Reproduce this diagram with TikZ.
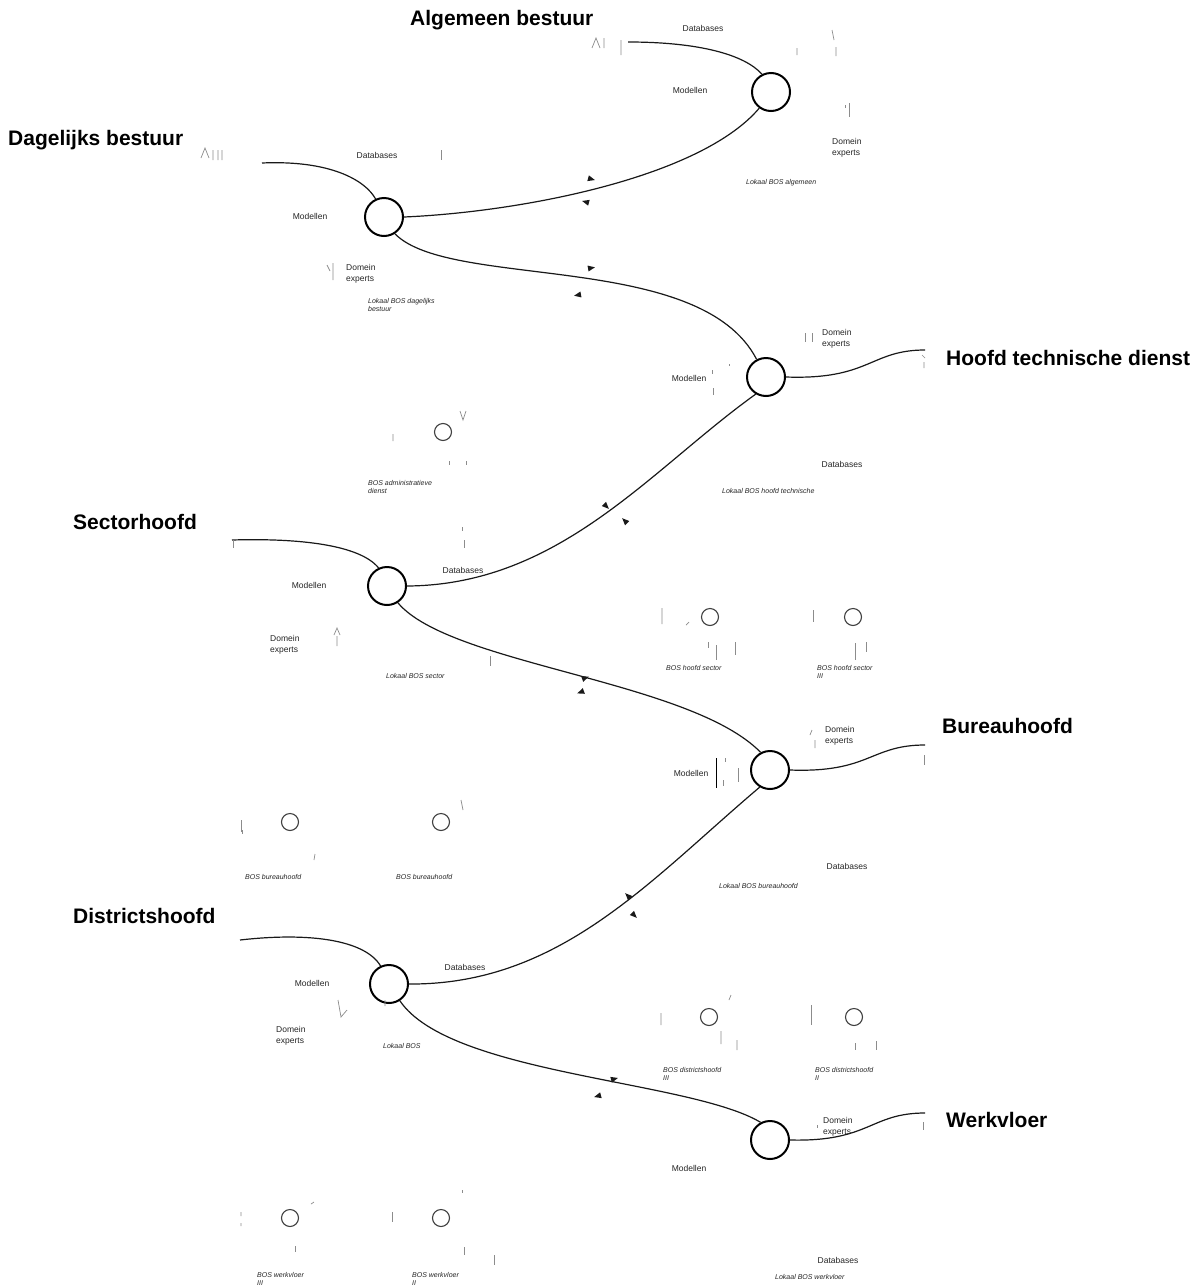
\documentclass[tikz,border=0pt]{standalone}
\usepackage{fontspec}
\setmainfont{Liberation Sans}
\begin{document}
\begin{tikzpicture}[x=1pt,y=-1pt,
  title/.style={font=\fontsize{21}{23}\selectfont\bfseries, anchor=west, inner sep=0},
  lbl/.style={font=\fontsize{8.5}{10}\selectfont, inner sep=0, text=black!85},
  duo/.style={font=\fontsize{8.5}{11}\selectfont, inner sep=0, text=black!85, align=left, anchor=west},
  loc/.style={font=\fontsize{7}{8.5}\selectfont\itshape, inner sep=0, align=left, anchor=west, text=black!85},
  hub/.style={circle, draw, line width=2pt, minimum size=38pt, inner sep=0},
  bos/.style={circle, draw=black!75, line width=1.1pt, minimum size=17pt, inner sep=0},
  link/.style={line width=1.2pt, black!90},
  frag/.style={black!45, line width=0.7pt},
  tri/.pic={\fill[black!90] (4,0) -- (-3,3) -- (-3,-3) -- cycle;}
]
\useasboundingbox (0,0) rectangle (1198,1288);
\fill[white] (0,0) rectangle (1198,1288);

% level titles
\node[title] (tA)  at (410,20)   {Algemeen bestuur};
\node[title] (tD)  at (8,140)    {Dagelijks bestuur};
\node[title] (tH)  at (946,358)  {Hoofd technische dienst};
\node[title] (tS)  at (73,522)   {Sectorhoofd};
\node[title] (tB)  at (942,726)  {Bureauhoofd};
\node[title] (tDi) at (73,916)   {Districtshoofd};
\node[title] (tW)  at (946,1120) {Werkvloer};

% local decision support hubs
\node[hub] (A)  at (771,92)   {};
\node[hub] (D)  at (384,217)  {};
\node[hub] (H)  at (766,377)  {};
\node[hub] (S)  at (387,586)  {};
\node[hub] (B)  at (770,770)  {};
\node[hub] (Di) at (389,984)  {};
\node[hub] (W)  at (770,1140) {};

% free ends of the outer links
\coordinate (aA)  at (628,42);
\coordinate (aD)  at (262,163);
\coordinate (aH)  at (925,350);
\coordinate (aS)  at (232,540);
\coordinate (aB)  at (925,745);
\coordinate (aDi) at (240,940);
\coordinate (aW)  at (925,1113);

% outer links
\draw[link] (aA) .. controls (700,42) and (745,55) .. (A.117);
\draw[link] (aD) .. controls (330,160) and (365,180) .. (D.115);
\draw[link] (H.east) .. controls (870,380) and (870,350) .. (aH);
\draw[link] (aS) .. controls (300,538) and (360,545) .. (S.115);
\draw[link] (B.east) .. controls (870,773) and (870,745) .. (aB);
\draw[link] (aDi) .. controls (310,932) and (365,940) .. (Di.115);
\draw[link] (W.east) .. controls (870,1142) and (870,1113) .. (aW);

% chain between levels
\draw[link] (A.234) .. controls (700,178) and (520,212) .. (D.east);
\draw[link] (D.-57) .. controls (450,290) and (700,250) .. (H.118);
\draw[link] (H.239) .. controls (650,470) and (560,585) .. (S.east);
\draw[link] (S.-57) .. controls (450,665) and (690,680) .. (B.118);
\draw[link] (B.239) .. controls (650,880) and (560,985) .. (Di.east);
\draw[link] (Di.-57) .. controls (450,1075) and (690,1080) .. (W.118);

% direction marks
\pic[rotate=-15]  at (591,179) {tri};
\pic[rotate=-195] at (586,202) {tri};
\pic[rotate=10]   at (591,268) {tri};
\pic[rotate=-170] at (578,295) {tri};
\pic[rotate=-45]  at (606,506) {tri};
\pic[rotate=-225] at (625,521) {tri};
\pic[rotate=20]   at (585,678) {tri};
\pic[rotate=-160] at (581,692) {tri};
\pic[rotate=-225] at (628,896) {tri};
\pic[rotate=-45]  at (634,915) {tri};
\pic[rotate=15]   at (614,1079) {tri};
\pic[rotate=-165] at (598,1096) {tri};

% labels: Algemeen bestuur
\node[lbl] (dbA) at (703,28) {Databases};
\node[lbl] (mA)  at (690,90) {Modellen};
\node[duo] (eA)  at (832,148) {Domein\\experts};
\node[loc] (lA)  at (746,183) {Lokaal BOS algemeen};

% labels: Dagelijks bestuur
\node[lbl] (dbD) at (377,155) {Databases};
\node[lbl] (mD)  at (310,216) {Modellen};
\node[duo] (eD)  at (346,274) {Domein\\experts};
\node[loc] (lD)  at (368,305) {Lokaal BOS dagelijks\\bestuur};

% labels: Hoofd technische dienst
\node[duo] (eH)  at (822,339) {Domein\\experts};
\node[lbl] (mH)  at (689,378) {Modellen};
\node[lbl] (dbH) at (842,464) {Databases};
\node[loc] (lH)  at (722,491) {Lokaal BOS hoofd technische};

% administrative service
\node[bos] (bAdm) at (443,432) {};
\node[loc] (lAdm) at (368,487) {BOS administratieve\\dienst};

% labels: Sectorhoofd
\node[lbl] (dbS) at (463,570) {Databases};
\node[lbl] (mS)  at (309,585) {Modellen};
\node[duo] (eS)  at (270,645) {Domein\\experts};
\node[loc] (lS)  at (386,676) {Lokaal BOS sector};

% sector heads
\node[bos] (bS1) at (710,617) {};
\node[bos] (bS2) at (853,617) {};
\node[loc] (lS1) at (666,668) {BOS hoofd sector};
\node[loc] (lS2) at (817,672) {BOS hoofd sector\\III};

% labels: Bureauhoofd
\node[duo] (eB)  at (825,736) {Domein\\experts};
\node[lbl] (mB)  at (691,773) {Modellen};
\node[lbl] (dbB) at (847,866) {Databases};
\node[loc] (lB)  at (719,886) {Lokaal BOS bureauhoofd};

% bureau heads
\node[bos] (bB1) at (290,822) {};
\node[bos] (bB2) at (441,822) {};
\node[loc] (lB1) at (245,877) {BOS bureauhoofd};
\node[loc] (lB2) at (396,877) {BOS bureauhoofd};

% labels: Districtshoofd
\node[lbl] (dbDi) at (465,967)  {Databases};
\node[lbl] (mDi)  at (312,983)  {Modellen};
\node[duo] (eDi)  at (276,1036) {Domein\\experts};
\node[loc] (lDi)  at (383,1046) {Lokaal BOS};

% district heads
\node[bos] (bDi1) at (709,1017) {};
\node[bos] (bDi2) at (854,1017) {};
\node[loc] (lDi1) at (663,1074) {BOS districtshoofd\\III};
\node[loc] (lDi2) at (815,1074) {BOS districtshoofd\\II};

% labels: Werkvloer
\node[duo] (eW)  at (823,1127) {Domein\\experts};
\node[lbl] (mW)  at (689,1168) {Modellen};
\node[lbl] (dbW) at (838,1260) {Databases};
\node[loc] (lW)  at (775,1277) {Lokaal BOS werkvloer};

% shop floor
\node[bos] (bW1) at (290,1218) {};
\node[bos] (bW2) at (441,1218) {};
\node[loc] (lW1) at (257,1279) {BOS werkvloer\\III};
\node[loc] (lW2) at (412,1279) {BOS werkvloer\\II};

% faint remains of the actor and database icons
\draw[frag] (592,48) -- (596,38) -- (600,48) (604,38) -- (604,48) (621,40) -- (621,55);
\draw[frag] (832,30) -- (834,40) (836,47) -- (836,56) (797,48) -- (797,55);
\draw[frag] (849,103) -- (849,117) (845,105) -- (845,108);
\draw[frag] (201,158) -- (205,148) -- (209,158) (213,150) -- (213,160) (218,150) -- (218,160) (222,150) -- (222,160);
\draw[frag] (441,150) -- (441,160);
\draw[frag] (327,265) -- (330,271) (333,263) -- (333,280);
\draw[frag] (805,333) -- (805,342) (812,333) -- (812,342);
\draw[frag] (924,362) -- (924,368) (922,355) -- (925,358);
\draw[frag] (712,370) -- (712,374) (713,388) -- (713,395) (729,364) -- (729,366);
\draw[frag] (393,434) -- (393,441) (460,411) -- (463,420) -- (466,411);
\draw[frag] (449,461) -- (449,465) (466,461) -- (466,465);
\draw[frag] (462,527) -- (462,531) (464,540) -- (464,548);
\draw[frag] (233,540) -- (233,548) (490,656) -- (490,666);
\draw[frag] (334,635) -- (337,628) -- (340,635) (337,636) -- (337,646);
\draw[frag] (662,608) -- (662,624) (686,625) -- (689,622);
\draw[frag] (708,642) -- (708,648) (716,645) -- (716,660) (735,642) -- (735,655);
\draw[frag] (813,610) -- (813,622) (855,643) -- (855,660) (866,642) -- (866,652);
\draw[frag] (810,735) -- (812,730) (815,740) -- (815,748);
\draw[black, line width=0.9pt] (716,758) -- (716,788);
\draw[frag] (725,758) -- (725,762) (738,768) -- (738,782) (723,780) -- (723,786);
\draw[frag] (924,755) -- (924,765);
\draw[frag] (241,820) -- (241,832) (242,830) -- (242,834);
\draw[frag] (314,860) -- (315,854) (461,800) -- (463,810);
\draw[frag] (385,1000) -- (385,1006) (338,1000) -- (341,1017) -- (347,1010);
\draw[frag] (661,1013) -- (661,1025) (729,1000) -- (731,995) (721,1031) -- (721,1044) (737,1040) -- (737,1050);
\draw[frag] (811,1005) -- (811,1025) (855,1043) -- (855,1050) (876,1041) -- (876,1050);
\draw[frag] (817,1125) -- (817,1128) (923,1122) -- (923,1130);
\draw[frag] (241,1212) -- (241,1216) (241,1223) -- (241,1226) (311,1204) -- (314,1202);
\draw[frag] (392,1212) -- (392,1222) (462,1190) -- (462,1193) (464,1247) -- (464,1255);
\draw[frag] (494,1255) -- (494,1265) (295,1246) -- (295,1252);
\end{tikzpicture}
\end{document}
